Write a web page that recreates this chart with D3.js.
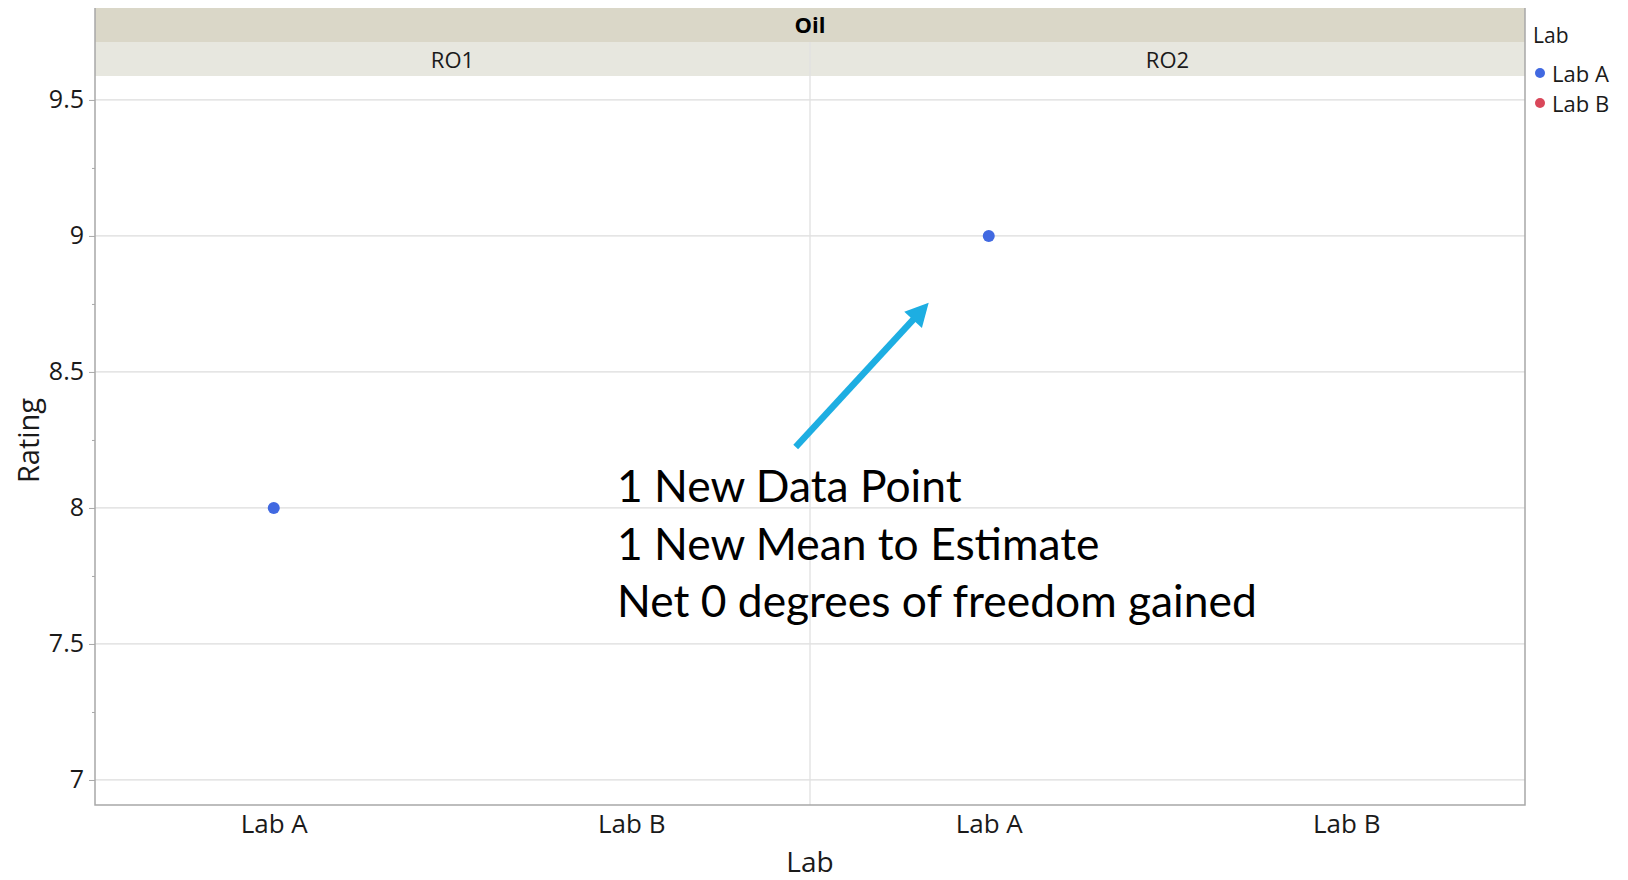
<!DOCTYPE html>
<html>
<head>
<meta charset="utf-8">
<title>Oil - Rating by Lab</title>
<script src="https://cdn.jsdelivr.net/npm/d3@7"></script>
<style>
  html, body { margin: 0; padding: 0; background: #fff; }
  svg { display: block; }
  .tick text { font-family: "Open Sans", sans-serif; fill: #1a1a1a; }
</style>
</head>
<body>
<svg id="chart" width="1628" height="880"></svg>
<script>
/*
	Data
*/
var oilLevels   = ["RO1", "RO2"];
var labs        = ["Lab A", "Lab B"];
var pointOil    = ["RO1", "RO2"];
var pointLab    = ["Lab A", "Lab A"];
var pointRating = [8, 9];
var yTicks      = [7, 7.5, 8, 8.5, 9, 9.5];
var yMinor      = [7.25, 7.75, 8.25, 8.75, 9.25];
var yDomain     = [6.908, 9.588];
var labColors   = ["#4169e1", "#d9475a"];
var noteLines   = ["1 New Data Point", "1 New Mean to Estimate", "Net 0 degrees of freedom gained"];

var svg = d3.select("#chart");

var frame = { left: 95, right: 1525, top: 8, head1: 42, head2: 76, bottom: 805 };
var gridColor = "#dcdcdc", axisColor = "#a8a8a8";

/*
	Scales
*/
var xPanel = d3.scaleBand()
	.domain(oilLevels)
	.range([frame.left, frame.right]);

var xLab = d3.scalePoint()
	.domain(labs)
	.range([0, xPanel.bandwidth()])
	.padding(0.5);

var y = d3.scaleLinear()
	.domain(yDomain)
	.range([frame.bottom, frame.head2]);

var color = d3.scaleOrdinal().domain(labs).range(labColors);

/*
	Header strips
*/
svg.append("rect")
	.attr("x", frame.left).attr("y", frame.top)
	.attr("width", frame.right - frame.left).attr("height", frame.head1 - frame.top)
	.attr("fill", "#dad7c8");

svg.append("text")
	.attr("x", (frame.left + frame.right) / 2).attr("y", 33)
	.attr("text-anchor", "middle")
	.style("font-family", "Open Sans, sans-serif")
	.style("font-weight", "bold")
	.style("font-size", "22px")
	.text("Oil");

svg.append("rect")
	.attr("x", frame.left).attr("y", frame.head1)
	.attr("width", frame.right - frame.left).attr("height", frame.head2 - frame.head1)
	.attr("fill", "#e7e7df");

svg.selectAll(".panel-label")
	.data(oilLevels)
	.enter()
	.append("text")
	.attr("class", "panel-label")
	.attr("x", function(d) { return xPanel(d) + xPanel.bandwidth() / 2; })
	.attr("y", 68)
	.attr("text-anchor", "middle")
	.style("font-family", "Open Sans, sans-serif")
	.style("font-size", "22px")
	.style("fill", "#1a1a1a")
	.text(function(d) { return d; });

/*
	Grid
*/
svg.append("g")
	.selectAll("line")
	.data(yTicks)
	.enter()
	.append("line")
	.attr("x1", frame.left).attr("x2", frame.right)
	.attr("y1", function(d) { return y(d); })
	.attr("y2", function(d) { return y(d); })
	.attr("stroke", gridColor)
	.attr("stroke-width", 1.3);

// panel divider
svg.selectAll(".divider")
	.data(oilLevels.slice(1))
	.enter()
	.append("line")
	.attr("class", "divider")
	.attr("x1", function(d) { return xPanel(d); })
	.attr("x2", function(d) { return xPanel(d); })
	.attr("y1", frame.head1).attr("y2", frame.bottom)
	.attr("stroke", "#e0e0e0")
	.attr("stroke-width", 1.3);

/*
	Axes
*/
var yAxis = svg.append("g")
	.attr("transform", "translate(" + frame.left + ",0)")
	.call(d3.axisLeft(y).tickValues(yTicks).tickSize(6).tickPadding(5).tickFormat(d3.format("~g")));
yAxis.select(".domain").remove();
yAxis.selectAll(".tick line").attr("stroke", axisColor);
yAxis.selectAll(".tick text").style("font-size", "25px");

var yMinorAxis = svg.append("g")
	.attr("transform", "translate(" + frame.left + ",0)")
	.call(d3.axisLeft(y).tickValues(yMinor).tickSize(3).tickFormat(""));
yMinorAxis.select(".domain").remove();
yMinorAxis.selectAll(".tick line").attr("stroke", axisColor);

oilLevels.forEach(function(oil) {
	var g = svg.append("g")
		.attr("transform", "translate(" + xPanel(oil) + "," + frame.bottom + ")")
		.call(d3.axisBottom(xLab).tickSize(0).tickPadding(10));
	g.select(".domain").remove();
	g.selectAll(".tick text").style("font-size", "26px");
});

// frame: left, right, bottom
svg.append("path")
	.attr("d", "M" + frame.left + "," + frame.top + "V" + frame.bottom + "H" + frame.right + "V" + frame.top)
	.attr("fill", "none")
	.attr("stroke", axisColor)
	.attr("stroke-width", 1.5);

/*
	Axis titles
*/
svg.append("text")
	.attr("transform", "translate(39," + ((frame.head2 + frame.bottom) / 2) + ") rotate(-90)")
	.attr("text-anchor", "middle")
	.style("font-family", "Open Sans, sans-serif")
	.style("font-size", "29px")
	.style("fill", "#1a1a1a")
	.text("Rating");

svg.append("text")
	.attr("x", (frame.left + frame.right) / 2).attr("y", 872)
	.attr("text-anchor", "middle")
	.style("font-family", "Open Sans, sans-serif")
	.style("font-size", "28px")
	.style("fill", "#1a1a1a")
	.text("Lab");

/*
	Points
*/
var points = pointRating.map(function(r, i) {
	return { oil: pointOil[i], lab: pointLab[i], rating: r };
});

svg.append("g")
	.selectAll("circle")
	.data(points)
	.enter()
	.append("circle")
	.attr("cx", function(d) { return xPanel(d.oil) + xLab(d.lab); })
	.attr("cy", function(d) { return y(d.rating); })
	.attr("r", 6)
	.attr("fill", function(d) { return color(d.lab); });

/*
	Legend
*/
var legend = svg.append("g");
legend.append("text")
	.attr("x", 1533).attr("y", 43)
	.style("font-family", "Open Sans, sans-serif")
	.style("font-size", "21px")
	.style("fill", "#1a1a1a")
	.text("Lab");

var item = legend.selectAll(".item")
	.data(labs)
	.enter()
	.append("g")
	.attr("class", "item")
	.attr("transform", function(d, i) { return "translate(1540," + (73 + i * 30) + ")"; });
item.append("circle")
	.attr("r", 5)
	.attr("fill", function(d) { return color(d); });
item.append("text")
	.attr("x", 12).attr("y", 9)
	.style("font-family", "Open Sans, sans-serif")
	.style("font-size", "22px")
	.style("fill", "#1a1a1a")
	.text(function(d) { return d; });

/*
	Annotation: arrow and note
*/
var arrowFrom = { px: 0.49, value: 8.224 },
	arrowTo   = { px: 0.583, value: 8.754 };
var ax1 = frame.left + arrowFrom.px * (frame.right - frame.left), ay1 = y(arrowFrom.value),
	ax2 = frame.left + arrowTo.px * (frame.right - frame.left), ay2 = y(arrowTo.value);
var ang = Math.atan2(ay2 - ay1, ax2 - ax1),
	headLen = 23, headHalf = 12;
var bx = ax2 - headLen * Math.cos(ang), by = ay2 - headLen * Math.sin(ang);
var arrowBlue = "#1daee2";

svg.append("line")
	.attr("x1", ax1).attr("y1", ay1)
	.attr("x2", bx + 2 * Math.cos(ang)).attr("y2", by + 2 * Math.sin(ang))
	.attr("stroke", arrowBlue)
	.attr("stroke-width", 6.5);

svg.append("path")
	.attr("d", "M" + ax2 + "," + ay2 +
		"L" + (bx + headHalf * Math.sin(ang)) + "," + (by - headHalf * Math.cos(ang)) +
		"L" + (bx - headHalf * Math.sin(ang)) + "," + (by + headHalf * Math.cos(ang)) + "Z")
	.attr("fill", arrowBlue);

var note = svg.append("g")
	.style("font-family", "Lato, sans-serif")
	.style("fill", "#000");
var noteText = note.selectAll("text")
	.data(noteLines)
	.enter()
	.append("text")
	.attr("x", 617)
	.attr("y", function(d, i) { return 502 + i * 57.5; })
	.style("font-size", "44px")
	.text(function(d) { return d; });

// fit the longest line to the width it has in the picture
var widest = d3.max(noteText.nodes(), function(n) { return n.getComputedTextLength(); });
noteText.style("font-size", (44 * 640 / widest) + "px");
</script>
</body>
</html>
